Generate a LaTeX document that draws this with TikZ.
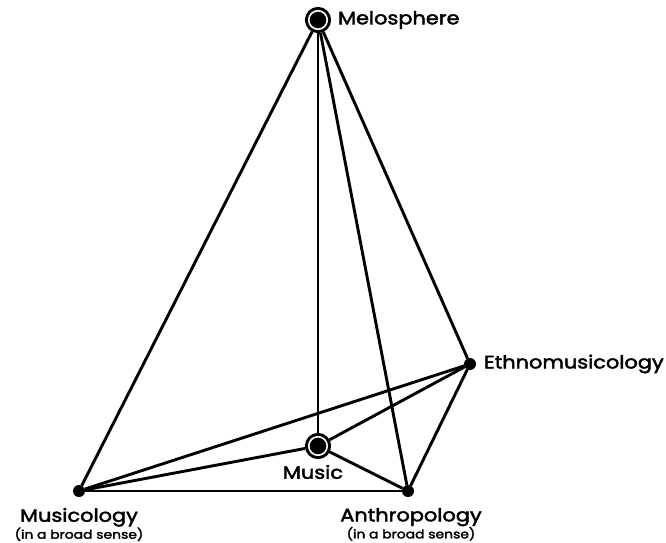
\documentclass[tikz,border=0pt]{standalone}
\usepackage{fontspec}
\setmainfont{Poppins}[FakeStretch=1.16,FakeBold=2.4]
\usetikzlibrary{positioning}

\begin{document}
\begin{tikzpicture}[
    x=1pt, y=-1pt,
    link/.style={line width=2.9pt},
    dot/.style={circle, fill=black, inner sep=0pt, minimum size=12pt, outer sep=0pt},
    hub/.style={circle, fill=black, draw=black, double=white, double distance=1.6pt,
        line width=3pt, inner sep=0pt, minimum size=18.5pt, outer sep=3.8pt},
    tag/.style={inner sep=0pt, outer sep=0pt, font=\fontsize{18}{20}\selectfont},
    subtag/.style={inner sep=0pt, outer sep=0pt, align=center,
        font=\fontsize{18}{17}\selectfont}
]
\useasboundingbox (0,0) rectangle (666,542);

% vertices of the figure
\node[hub] (melo) at (318,20) {};
\node[hub] (music) at (318,446) {};
\node[dot] (ethno) at (470,364) {};
\node[dot] (musico) at (79,491) {};
\node[dot] (anthro) at (408,491) {};

% every pair is joined
\draw[link] (melo) -- (musico);
\draw[link] (melo) -- (music);
\draw[link] (melo) -- (anthro);
\draw[link] (melo) -- (ethno);
\draw[link] (ethno) -- (musico);
\draw[link] (ethno) -- (music);
\draw[link] (ethno) -- (anthro);
\draw[link] (musico) -- (music);
\draw[link] (musico) -- (anthro);
\draw[link] (music) -- (anthro);

% labels
\node[tag, right=7pt of melo] (meloText) {Melosphere};
\node[tag, right=8pt of ethno] (ethnoText) {Ethnomusicology};
\node[tag, below=6pt of music, xshift=-5pt] (musicText) {Music};
\node[subtag, below=11pt of musico] (musicoText)
    {Musicology\\{\fontsize{12}{12}\selectfont (in a broad sense)}};
\node[subtag, below=11pt of anthro, xshift=3pt] (anthroText)
    {Anthropology\\{\fontsize{12}{12}\selectfont (in a broad sense)}};
\end{tikzpicture}
\end{document}
